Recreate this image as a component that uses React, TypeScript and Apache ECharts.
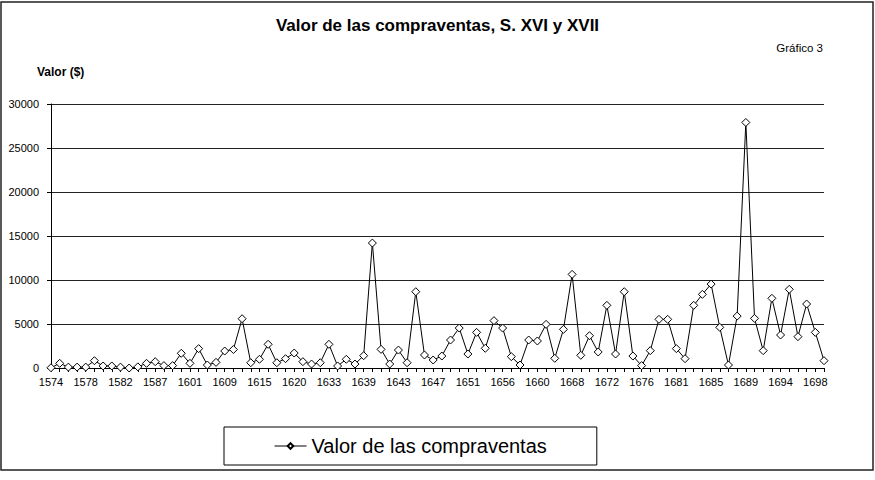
import React, { useEffect, useRef } from "react";
import * as echarts from "echarts";

const years: string[] = [
  "1574", "1575", "1576", "1577", "1578", "1579", "1580", "1581", "1582", "1583",
  "1585", "1586", "1587", "1590", "1595", "1598", "1601", "1603", "1605", "1607",
  "1609", "1610", "1612", "1613", "1615", "1616", "1617", "1619", "1620", "1623",
  "1626", "1630", "1633", "1635", "1636", "1638", "1639", "1640", "1641", "1642",
  "1643", "1644", "1645", "1646", "1647", "1648", "1649", "1650", "1651", "1652",
  "1653", "1655", "1656", "1657", "1658", "1659", "1660", "1662", "1664", "1666",
  "1668", "1669", "1670", "1671", "1672", "1673", "1674", "1675", "1676", "1677",
  "1679", "1680", "1681", "1682", "1683", "1684", "1685", "1686", "1687", "1688",
  "1689", "1690", "1691", "1693", "1694", "1695", "1696", "1697", "1698", "1699",
];

const valores: number[] = [
  30, 530, 100, 100, 100, 830, 230, 230, 100, 0,
  130, 530, 720, 270, 270, 1670, 530, 2200, 340, 640,
  1930, 2100, 5600, 600, 990, 2690, 600, 1060, 1700, 720,
  450, 600, 2690, 230, 990, 450, 1400, 14200, 2120, 450,
  2040, 600, 8670, 1480, 910, 1360, 3180, 4540, 1590, 4050,
  2240, 5380, 4540, 1290, 340, 3180, 3070, 4960, 1100, 4390,
  10640, 1440, 3670, 1820, 7120, 1590, 8670, 1360, 270, 1970,
  5530, 5530, 2200, 1060, 7120, 8370, 9540, 4620, 340, 5900,
  27900, 5640, 1970, 7920, 3750, 8940, 3560, 7270, 4050, 830,
];

const FONT = "Liberation Sans, Arial, sans-serif";

export default function App() {
  const ref = useRef<HTMLDivElement>(null);
  useEffect(() => {
    if (!ref.current) return;
    const chart = echarts.init(ref.current, undefined, { renderer: "svg" });
    chart.setOption({
      animation: false,
      backgroundColor: "#ffffff",
      textStyle: { fontFamily: FONT },
      title: {
        text: "Valor de las compraventas, S. XVI y XVII",
        left: "center",
        top: 12,
        textStyle: { fontSize: 17, fontWeight: "bold", color: "#000", fontFamily: FONT },
      },
      graphic: [
        {
          type: "rect",
          shape: { x: 1, y: 2, width: 872, height: 468 },
          style: { fill: "none", stroke: "#222", lineWidth: 1.5 },
          silent: true,
        },
        {
          type: "text",
          right: 52,
          top: 42,
          style: { text: "Gráfico 3", fontSize: 11.5, fill: "#000", fontFamily: FONT },
        },
        {
          type: "text",
          left: 37,
          top: 66,
          style: { text: "Valor ($)", fontSize: 12, fontWeight: "bold", fill: "#000", fontFamily: FONT },
        },
      ],
      legend: {
        data: ["Valor de las compraventas"],
        left: 224,
        top: 427,
        padding: [9, 50, 9, 50],
        borderColor: "#000",
        borderWidth: 1,
        itemWidth: 32,
        itemHeight: 7,
        itemGap: 5,
        lineStyle: { width: 1 },
        textStyle: { fontSize: 20, color: "#000", fontFamily: FONT },
      },
      grid: { left: 51, top: 104, width: 773, height: 264 },
      xAxis: {
        type: "category",
        data: years,
        boundaryGap: false,
        axisLine: { lineStyle: { color: "#000", width: 1 } },
        axisTick: { show: true, interval: 0, length: 4, lineStyle: { color: "#000" } },
        axisLabel: { interval: 3, fontSize: 11, color: "#000", margin: 8, fontFamily: FONT },
        splitLine: { show: false },
      },
      yAxis: {
        type: "value",
        min: 0,
        max: 30000,
        interval: 5000,
        axisLine: { show: true, lineStyle: { color: "#000", width: 1 } },
        axisTick: { show: true, length: 4, lineStyle: { color: "#000" } },
        axisLabel: {
          fontSize: 11,
          color: "#000",
          margin: 12,
          fontFamily: FONT,
          formatter: (v: number) => String(v),
        },
        splitLine: { show: true, lineStyle: { color: "#222", width: 1 } },
      },
      series: [
        {
          name: "Valor de las compraventas",
          type: "line",
          data: valores,
          symbol: "diamond",
          symbolSize: 8,
          showAllSymbol: true,
          lineStyle: { color: "#000", width: 1 },
          itemStyle: { color: "#fff", borderColor: "#000", borderWidth: 1 },
        },
      ],
    });
    return () => chart.dispose();
  }, []);
  return (
    <div
      ref={ref}
      style={{ position: "fixed", left: 0, top: 0, width: 875, height: 480 }}
    />
  );
}
